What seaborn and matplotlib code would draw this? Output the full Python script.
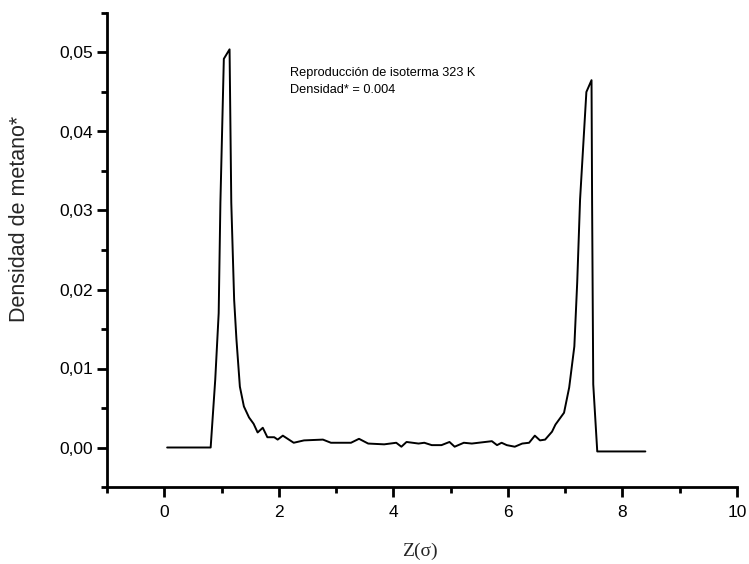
import matplotlib
matplotlib.use("Agg")
import matplotlib.pyplot as plt
import seaborn as sns
import pandas as pd
from matplotlib.ticker import FixedLocator

z = [0.05, 0.81, 0.89, 0.95, 0.98, 1.04, 1.14, 1.17, 1.22, 1.26, 1.32, 1.39,
     1.48, 1.56, 1.63, 1.72, 1.80, 1.92, 1.98, 2.07, 2.26, 2.44, 2.77, 2.91,
     3.26, 3.40, 3.56, 3.84, 4.05, 4.14, 4.23, 4.44, 4.54, 4.67, 4.84, 4.98,
     5.07, 5.23, 5.37, 5.72, 5.81, 5.89, 5.98, 6.12, 6.25, 6.37, 6.47, 6.56,
     6.65, 6.77, 6.83, 6.98, 7.07, 7.16, 7.21, 7.26, 7.37, 7.46, 7.47, 7.49,
     7.56, 8.40]
densidad = [0.0, 0.0, 0.0086, 0.017, 0.031, 0.0492, 0.0504, 0.031, 0.0187,
            0.0137, 0.0077, 0.0052, 0.0038, 0.0030, 0.0019, 0.0025, 0.0013,
            0.0013, 0.0010, 0.0015, 0.0006, 0.0009, 0.0010, 0.0006, 0.0006,
            0.0011, 0.0005, 0.0004, 0.0006, 0.0001, 0.0007, 0.0005, 0.0006,
            0.0003, 0.0003, 0.0007, 0.0001, 0.0006, 0.0005, 0.0008, 0.0003,
            0.0006, 0.0003, 0.0001, 0.0005, 0.0006, 0.0015, 0.0009, 0.0010,
            0.0020, 0.0029, 0.0044, 0.0076, 0.0128, 0.0209, 0.0314, 0.0450,
            0.0465, 0.031, 0.008, -0.0005, -0.0005]

y_ticks = [0.00, 0.01, 0.02, 0.03, 0.04, 0.05]
y_tick_labels = ["0,00", "0,01", "0,02", "0,03", "0,04", "0,05"]
x_ticks = [0, 2, 4, 6, 8, 10]
x_tick_labels = ["0", "2", "4", "6", "8", "10"]

titulo = "Reproducción de isoterma 323 K"
subtitulo = "Densidad* = 0.004"

sns.set_theme(style="white")
plt.rcParams['font.family'] = ['Liberation Sans', 'DejaVu Sans']

df = pd.DataFrame({"z": z, "dens": densidad})

fig = plt.figure(figsize=(7.49, 5.64), dpi=100)
ax = fig.add_axes([107/749, 1-487/564, (737-107)/749, (487-13)/564])

sns.lineplot(data=df, x="z", y="dens", ax=ax, color="black", linewidth=1.4,
             sort=False, estimator=None)

ax.set_xlim(-1, 10)
ax.set_ylim(-0.005, 0.055)

ax.xaxis.set_major_locator(FixedLocator(x_ticks))
ax.set_xticklabels(x_tick_labels)
ax.xaxis.set_minor_locator(FixedLocator([-1, 1, 3, 5, 7, 9]))
ax.yaxis.set_major_locator(FixedLocator(y_ticks))
ax.set_yticklabels(y_tick_labels)
ax.yaxis.set_minor_locator(FixedLocator([-0.005, 0.005, 0.015, 0.025, 0.035, 0.045, 0.055]))

ax.tick_params(axis="both", which="major", direction="out", length=7, width=2,
               colors="black", labelsize=12.5, bottom=True, left=True)
ax.tick_params(axis="both", which="minor", direction="out", length=4, width=2,
               colors="black", bottom=True, left=True)
ax.tick_params(axis="x", which="major", pad=6)
ax.tick_params(axis="y", which="major", pad=3)

for s in ["top", "right"]:
    ax.spines[s].set_visible(False)
for s in ["left", "bottom"]:
    ax.spines[s].set_color("black")
    ax.spines[s].set_linewidth(2)

ax.set_xlabel("Z(σ)", fontsize=14, family=["Liberation Serif", "DejaVu Serif"])
ax.set_ylabel("Densidad de metano*", fontsize=15.5)
ax.xaxis.set_label_coords((420-107)/630, -(543-487)/474)
ax.yaxis.set_label_coords((30-107)/630, 1-(219-13)/474)

ax.text((290-107)/630, 1-(73-13)/474, titulo, transform=ax.transAxes,
        fontsize=9.2, va="center", ha="left", color="black")
ax.text((290-107)/630, 1-(90-13)/474, subtitulo, transform=ax.transAxes,
        fontsize=9.2, va="center", ha="left", color="black")

fig.savefig("out.png", dpi=100)
